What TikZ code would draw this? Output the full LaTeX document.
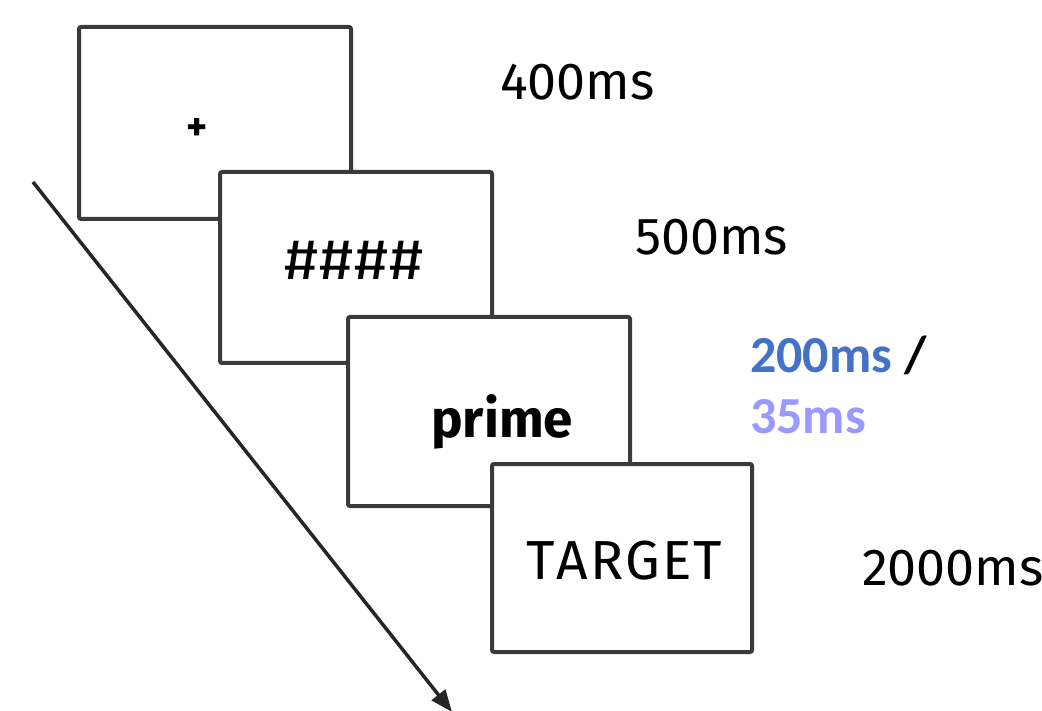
\documentclass[tikz,border=0pt]{standalone}
\usepackage{fontspec}
\usetikzlibrary{arrows.meta}
\newfontfamily\dinfont{Fira Sans}
\newfontfamily\calfont{Carlito}
\definecolor{framegray}{HTML}{3A3A3A}
\definecolor{axisgray}{HTML}{262626}
\definecolor{longblue}{HTML}{4472C4}
\definecolor{shortviolet}{HTML}{9999FF}
\newcommand{\spacedword}[2]{\def\gap{\kern#1}\spacedloop#2\relax}
\def\spacedloop#1#2\relax{#1\ifx\relax#2\relax\else\gap\spacedloop#2\relax\fi}
\newcommand{\widehash}{\scalebox{1.26}[1.1]{\#}}
\tikzset{
  screen/.style={draw=framegray, line width=4pt, fill=white, rounded corners=2pt,
    inner sep=0pt, anchor=north west},
  stim/.style={font=\dinfont\fontsize{52}{56}\selectfont, anchor=base west, inner sep=0pt, text=black},
  dur/.style={font=\dinfont\fontsize{52}{56}\selectfont, anchor=base west, inner sep=0pt, text=black},
  soa/.style={font=\calfont\bfseries\fontsize{52}{58}\selectfont, anchor=base west, inner sep=0pt},
  timeline/.style={draw=axisgray, line width=3.5pt, -{Triangle[length=22pt,width=17pt]}}
}
\begin{document}
\begin{tikzpicture}[x=1pt,y=-1pt]
\useasboundingbox (0,0) rectangle (1042,711);
% stacked display screens, later screens in front
\node[screen, minimum width=272pt, minimum height=192pt] (fix) at (77,25) {};
\node[screen, minimum width=272pt, minimum height=191pt] (mask) at (218,170) {};
\node[screen, minimum width=282pt, minimum height=189pt] (primebox) at (346,315) {};
\node[screen, minimum width=260pt, minimum height=188pt] (targetbox) at (490,462) {};
% screen contents
\node[font=\dinfont\bfseries\fontsize{40}{40}\selectfont, inner sep=0pt] (plus) at (197,130) {+};
\node[stim] (hash) at (284,280) {\widehash\kern1pt\widehash\kern1pt\widehash\kern1pt\widehash};
\node[stim, font=\dinfont\bfseries\fontsize{53}{56}\selectfont] (primeword) at (431,437) {prime};
\node[stim, font=\dinfont\fontsize{55}{58}\selectfont] (targetword) at (526,579) {\spacedword{2pt}{TARGET}};
% durations
\node[dur] (d1) at (500,100) {400ms};
\node[dur] (d2) at (635,255) {500ms};
\node[soa] (d3) at (750,373) {\textcolor{longblue}{200ms} /};
\node[soa, text=shortviolet] (d3b) at (750,433) {35ms};
\node[dur] (d4) at (862,585) {2000ms};
% time axis
\coordinate (tstart) at (33,182);
\coordinate (tend) at (452,712);
\draw[timeline] (tstart) -- (tend);
\end{tikzpicture}
\end{document}
